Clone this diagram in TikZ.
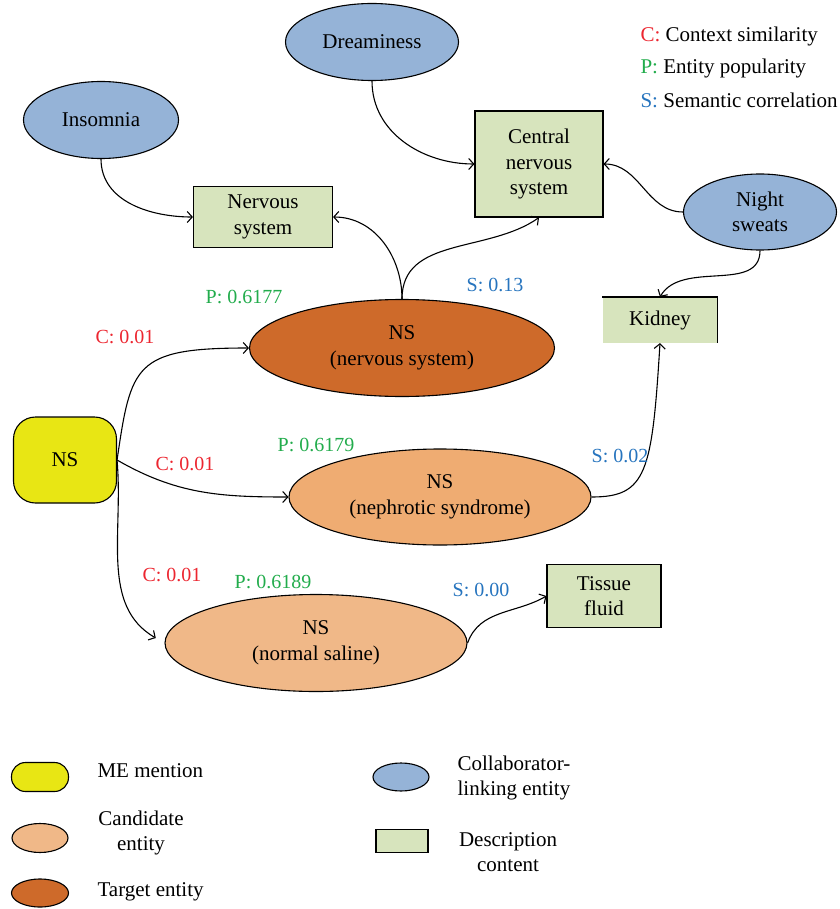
\documentclass[tikz,border=0pt]{standalone}
\usepackage{fontspec}
\setmainfont{Liberation Serif}
\usepackage{tikz}
\usetikzlibrary{shapes,arrows.meta,positioning}
\definecolor{collabblue}{RGB}{149,179,215}
\definecolor{descgreen}{RGB}{215,228,189}
\definecolor{targetorange}{RGB}{206,106,42}
\definecolor{candorange}{RGB}{239,172,114}
\definecolor{candlight}{RGB}{240,184,136}
\definecolor{meyellow}{RGB}{232,230,20}
\definecolor{cred}{RGB}{236,38,48}
\definecolor{pgreen}{RGB}{34,172,76}
\definecolor{sblue}{RGB}{38,116,190}
\tikzstyle{collab} = [ellipse,draw,line width=1.1pt,fill=collabblue,inner sep=0pt,align=center]
\tikzstyle{desc} = [rectangle,draw,line width=1.1pt,fill=descgreen,inner sep=0pt,align=center]
\tikzstyle{cand} = [ellipse,draw,line width=1.1pt,fill=candorange,inner sep=0pt,align=center]
\tikzstyle{target} = [ellipse,draw,line width=1.1pt,fill=targetorange,inner sep=0pt,align=center]
\tikzstyle{mention} = [rectangle,rounded corners=22pt,draw,line width=1.1pt,fill=meyellow,inner sep=0pt]
\tikzstyle{score} = [inner sep=0pt,font=\fontsize{20}{24}\selectfont]
\tikzset{>={Straight Barb[length=5pt,width=11pt]}}

\begin{document}
\begin{tikzpicture}[x=1pt,y=1pt,every node/.style={font=\fontsize{21}{25.5}\selectfont},every path/.style={line width=1.1pt}]
    \useasboundingbox (0,0) rectangle (839,-909);
    \node [collab,minimum width=173,minimum height=77] (dream) at (372,-42) {Dreaminess};
    \node [collab,minimum width=155,minimum height=77] (insom) at (101,-120) {Insomnia};
    \node [collab,minimum width=153,minimum height=76] (night) at (760,-212) {Night\\sweats};
    \node [desc,minimum width=139,minimum height=61] (nerv) at (263,-217) {Nervous\\system};
    \node [desc,minimum width=128,minimum height=106] (cns) at (539,-164) {Central\\nervous\\system};
    \node [desc,draw=none,minimum width=114,minimum height=45] (kid) at (660,-320) {Kidney};
    \draw (kid.north west) -- (kid.north east) -- (kid.south east);
    \node [desc,minimum width=114,minimum height=63] (tissue) at (604,-596) {Tissue\\fluid};
    \node [target,minimum width=305,minimum height=97] (nsnerv) at (402,-348) {NS\\(nervous system)};
    \node [cand,minimum width=302,minimum height=96] (nsneph) at (440,-497) {NS\\(nephrotic syndrome)};
    \node [cand,fill=candlight,minimum width=302,minimum height=97] (nssal) at (316,-643) {NS\\(normal saline)};
    \node [mention,minimum width=103,minimum height=86] (me) at (65,-460) {NS};

    \draw [->] (insom.south) to [out=-90,in=180] (nerv.west);
    \draw [->] (dream.south) to [out=-90,in=180] (cns.west);
    \draw [->] (night.west) to [out=180,in=0] (cns.east);
    \draw [->] (night.south) to [out=-90,in=60] (kid.north);
    \draw [->] (nsnerv.north) to [out=90,in=0] (nerv.east);
    \draw [->] (nsnerv.north) to [out=90,in=-145] (cns.south);
    \draw [->] (me.east) .. controls +(14,95) and +(-115,0) .. (nsnerv.west);
    \draw [->] (me.east) to [out=-30,in=180] (nsneph.west);
    \draw [->,shorten >=10pt] (me.east) to [out=-85,in=150] (nssal.west);
    \draw [->] (nsneph.east) .. controls +(55,0) and +(-8,-130) .. (kid.south);
    \draw [->] (nssal.east) to [out=70,in=210] (tissue.west);

    \node [score,text=cred] (c1) at (125,-337) {C: 0.01};
    \node [score,text=cred] (c2) at (185,-464) {C: 0.01};
    \node [score,text=cred] (c3) at (172,-575) {C: 0.01};
    \node [score,text=pgreen] (p1) at (244,-297) {P: 0.6177};
    \node [score,text=pgreen] (p2) at (316,-445) {P: 0.6179};
    \node [score,text=pgreen] (p3) at (273,-582) {P: 0.6189};
    \node [score,text=sblue] (s1) at (495,-285) {S: 0.13};
    \node [score,text=sblue] (s2) at (620,-456) {S: 0.02};
    \node [score,text=sblue] (s3) at (481,-590) {S: 0.00};

    \node [anchor=west,inner sep=0pt] (keyc) at (640,-36) {\textcolor{cred}{C:} Context similarity};
    \node [anchor=west,inner sep=0pt] (keyp) at (640,-68) {\textcolor{pgreen}{P:} Entity popularity};
    \node [anchor=west,inner sep=0pt] (keys) at (640,-100) {\textcolor{sblue}{S:} Semantic correlation};

    \node [mention,rounded corners=14pt,minimum width=57,minimum height=29] (legme) at (40,-777) {};
    \node [anchor=west,inner sep=0pt] at (97,-771) {ME mention};
    \node [cand,fill=candlight,minimum width=56,minimum height=29] (legcand) at (40,-838) {};
    \node [align=center,inner sep=0pt] at (141,-833) {Candidate\\entity};
    \node [target,minimum width=57,minimum height=28] (legtarget) at (40,-893) {};
    \node [anchor=west,inner sep=0pt] at (97,-892) {Target entity};
    \node [collab,minimum width=56,minimum height=28] (legcollab) at (401,-777) {};
    \node [align=left,inner sep=0pt] at (514,-778) {Collaborator-\\linking entity};
    \node [desc,minimum width=52,minimum height=23] (legdesc) at (402,-841) {};
    \node [align=center,inner sep=0pt] at (508,-852) {Description\\content};
  \end{tikzpicture}
\end{document}
